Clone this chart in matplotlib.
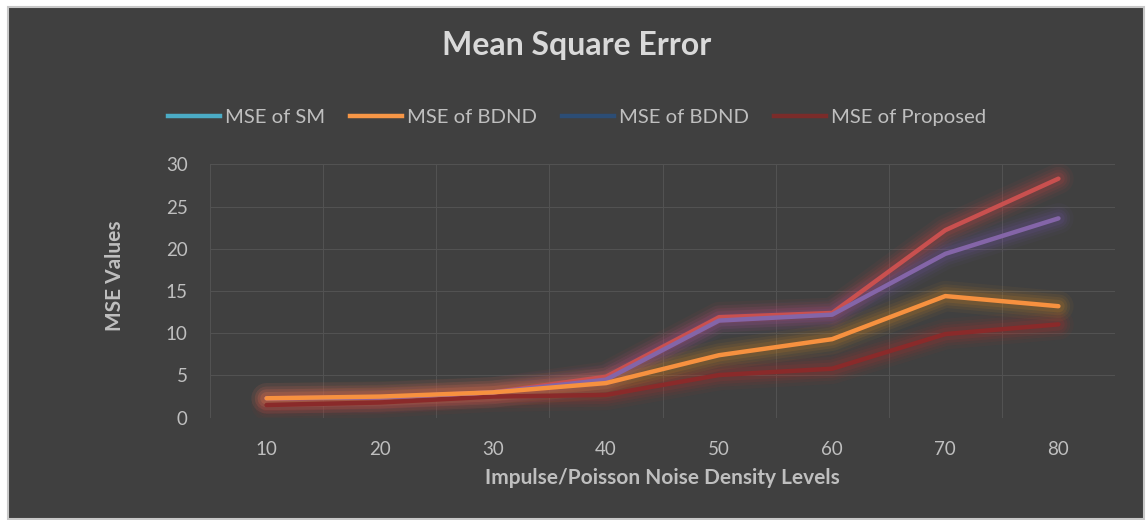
import matplotlib
matplotlib.use("Agg")
import matplotlib.pyplot as plt
from matplotlib.patches import Rectangle
from matplotlib.lines import Line2D
import numpy as np

plt.rcParams['font.family'] = ['Lato', 'DejaVu Sans']

# Data
levels = [10, 20, 30, 40, 50, 60, 70, 80]
mse_sm = [2.3, 2.4, 3.0, 4.85, 11.9, 12.4, 22.2, 28.3]
mse_bdnd_a = [2.3, 2.5, 3.0, 4.1, 7.4, 9.3, 14.4, 13.2]
mse_bdnd_b = [2.3, 2.4, 3.0, 4.5, 11.5, 12.2, 19.4, 23.6]
mse_proposed = [1.5, 1.8, 2.5, 2.7, 5.05, 5.8, 9.9, 11.05]

legend_labels = ["MSE of SM", "MSE of BDND", "MSE of BDND", "MSE of Proposed"]
legend_colors = ["#4bacc6", "#f79646", "#2c4d75", "#7b2c2a"]

bg = "#404040"
grid_c = "#525252"
text_c = "#bfbfbf"

W, H = 1146, 520
fig = plt.figure(figsize=(W / 100, H / 100), dpi=100)
fig.patch.set_facecolor("white")

# Chart area with light border
fig.add_artist(Rectangle((8 / W, 1 - 519 / H), (1144 - 8) / W, (519 - 7) / H,
                         transform=fig.transFigure, facecolor=bg,
                         edgecolor="#c8c8c8", linewidth=1.5, zorder=0))

left, right = 210 / W, 1115 / W
bottom, top = 1 - 417.7 / H, 1 - 164.3 / H
ax = fig.add_axes([left, bottom, right - left, top - bottom])
ax.set_facecolor(bg)
for s in ax.spines.values():
    s.set_visible(False)

x = np.arange(len(levels))
ax.set_xlim(-0.5, len(levels) - 0.5)
ax.set_ylim(0, 30)

# Gridlines (category boundaries and value steps)
for gx in np.arange(-0.5, len(levels), 1.0):
    ax.axvline(gx, color=grid_c, lw=0.8, zorder=1)
for gy in range(0, 31, 5):
    ax.axhline(gy, color=grid_c, lw=0.8, zorder=1)


def glow_line(vals, color, glow):
    for w, a in [(22, 0.05), (17, 0.07), (13, 0.09), (9, 0.12)]:
        ax.plot(x, vals, color=glow, lw=w, alpha=a, solid_capstyle="round",
                solid_joinstyle="round", zorder=2)
    ax.plot(x, vals, color=color, lw=3.2, solid_capstyle="round",
            solid_joinstyle="round", zorder=3)


glow_line(mse_proposed, "#8a2a2a", "#c0302a")
glow_line(mse_sm, "#c9504f", "#e04040")
glow_line(mse_bdnd_b, "#8465a8", "#7a55b0")
glow_line(mse_bdnd_a, "#f7913f", "#e8901a")

ax.set_xticks(x)
ax.set_xticklabels([str(v) for v in levels])
ax.set_yticks(range(0, 31, 5))
ax.tick_params(axis="both", length=0, colors=text_c, labelsize=13.5)
ax.tick_params(axis="x", pad=17)
ax.tick_params(axis="y", pad=16)

fig.text(115 / W, 1 - 276 / H, "MSE Values", rotation=90, ha="center", va="center",
         color=text_c, fontsize=15, fontweight="bold")
fig.text(662 / W, 1 - 478 / H, "Impulse/Poisson Noise Density Levels", ha="center",
         va="center", color=text_c, fontsize=15, fontweight="bold")

fig.text(577 / W, 1 - 45 / H, "Mean Square Error", ha="center", va="center",
         color="#d9d9d9", fontsize=23, fontweight="bold")

handles = [Line2D([0], [0], color=c, lw=3.2) for c in legend_colors]
leg = fig.legend(handles, legend_labels, loc="center", ncol=4,
                 bbox_to_anchor=(577 / W, 1 - 117 / H), frameon=False,
                 fontsize=14.6, handlelength=2.55, handletextpad=0.25,
                 columnspacing=1.25)
for t in leg.get_texts():
    t.set_color(text_c)

fig.savefig("out.png", dpi=100, facecolor=fig.get_facecolor())
